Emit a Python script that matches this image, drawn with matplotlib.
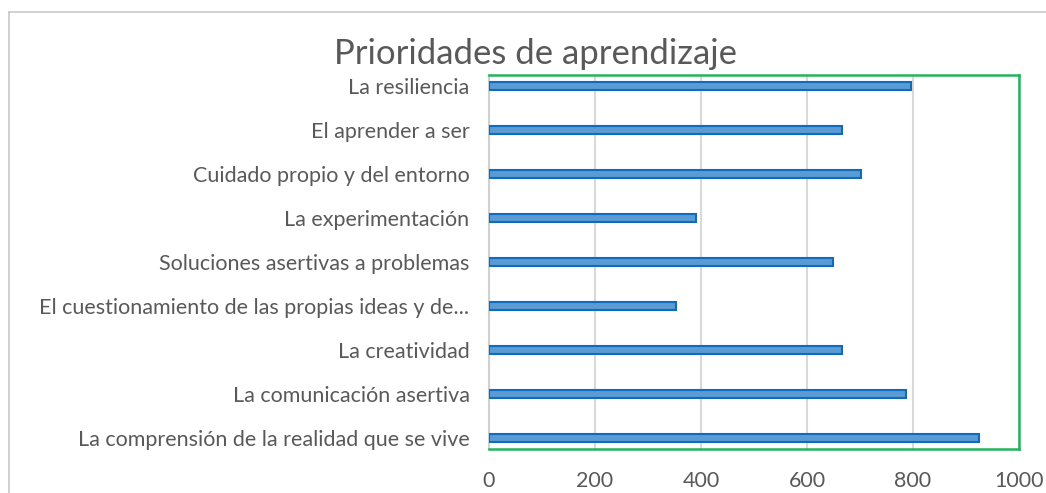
import matplotlib.pyplot as plt
from matplotlib.lines import Line2D

# datos (de abajo hacia arriba)
categorias = [
    "La comprensión de la realidad que se vive",
    "La comunicación asertiva",
    "La creatividad",
    "El cuestionamiento de las propias ideas y de...",
    "Soluciones asertivas a problemas",
    "La experimentación",
    "Cuidado propio y del entorno",
    "El aprender a ser",
    "La resiliencia",
]
valores = [925, 787, 666, 353, 649, 390, 702, 666, 797]
ticks_x = [0, 200, 400, 600, 800, 1000]

plt.rcParams['font.family'] = ['Lato', 'DejaVu Sans']

fig = plt.figure(figsize=(10.46, 4.93), dpi=100)
ax = fig.add_axes([489 / 1046, 1 - 449 / 493, 530 / 1046, 374 / 493])

pos = list(range(len(categorias)))
ax.barh(pos, valores, height=0.18, color='#5B9BD5', edgecolor='#0F6CBD',
        linewidth=1.5, zorder=3)

ax.set_xlim(0, 1000)
ax.set_ylim(-0.25, 8.25)
ax.set_xticks(ticks_x)
ax.set_yticks(pos)
ax.set_yticklabels(categorias)
ax.tick_params(axis='y', length=0, pad=14, labelsize=15.5, labelcolor='#595959')
ax.tick_params(axis='x', length=0, pad=16, labelsize=15.5, labelcolor='#595959')
ax.grid(axis='x', color='#D9D9D9', linewidth=1.5, zorder=0)

for s in ['top', 'right', 'bottom']:
    ax.spines[s].set_color('#22B45A')
    ax.spines[s].set_linewidth(1.8)
ax.spines['left'].set_color('#D0D0D0')
ax.spines['left'].set_linewidth(1.5)

fig.text(535 / 1046, 1 - 54 / 493, "Prioridades de aprendizaje", ha='center',
         va='center', fontsize=25, color='#595959')

# borde del área del gráfico
fig.add_artist(Line2D([9 / 1046, 1], [1 - 12 / 493, 1 - 12 / 493],
                      color='#C8C8C8', linewidth=1.2))
fig.add_artist(Line2D([9 / 1046, 9 / 1046], [0, 1 - 12 / 493],
                      color='#C8C8C8', linewidth=1.2))

fig.savefig('out.png', dpi=100)
